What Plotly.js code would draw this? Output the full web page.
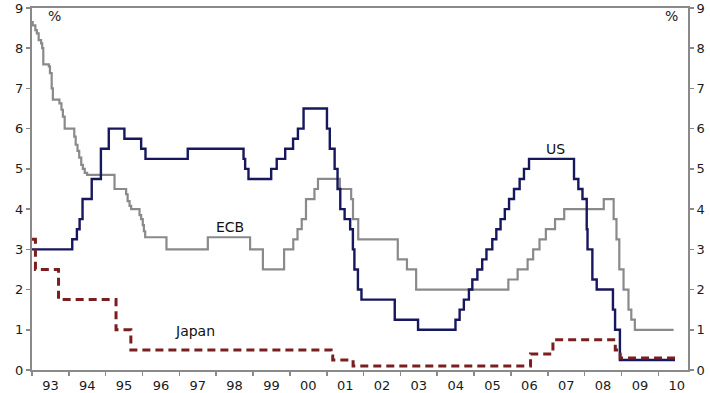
<!DOCTYPE html>
<html>
<head>
<meta charset="utf-8">
<script src="https://cdn.plot.ly/plotly-3.0.1.min.js"></script>
<style>
  html, body { margin: 0; padding: 0; background: #fff; }
  #chart { width: 710px; height: 393px; }
</style>
</head>
<body>
<div id="chart"></div>
<script>
// US Fed funds target rate (%)
const usDates = ["1993-01-01","1994-02-04","1994-03-22","1994-04-18","1994-05-17","1994-08-16","1994-11-15","1995-02-01","1995-07-06","1995-12-19","1996-01-31","1997-03-25","1998-09-29","1998-10-15","1998-11-17","1999-06-30","1999-08-24","1999-11-16","2000-02-02","2000-03-21","2000-05-16","2001-01-03","2001-01-31","2001-03-20","2001-04-18","2001-05-15","2001-06-27","2001-08-21","2001-09-17","2001-10-02","2001-11-06","2001-12-11","2002-11-06","2003-06-25","2004-06-30","2004-08-10","2004-09-21","2004-11-10","2004-12-14","2005-02-02","2005-03-22","2005-05-03","2005-06-30","2005-08-09","2005-09-20","2005-11-01","2005-12-13","2006-01-31","2006-03-28","2006-05-10","2006-06-29","2007-09-18","2007-10-31","2007-12-11","2008-01-22","2008-01-30","2008-03-18","2008-04-30","2008-10-08","2008-10-29","2008-12-16","2010-06-15"];
const usRates = [3.0,3.25,3.5,3.75,4.25,4.75,5.5,6.0,5.75,5.5,5.25,5.5,5.25,5.0,4.75,5.0,5.25,5.5,5.75,6.0,6.5,6.0,5.5,5.0,4.5,4.0,3.75,3.5,3.0,2.5,2.0,1.75,1.25,1.0,1.25,1.5,1.75,2.0,2.25,2.5,2.75,3.0,3.25,3.5,3.75,4.0,4.25,4.5,4.75,5.0,5.25,4.75,4.5,4.25,3.5,3.0,2.25,2.0,1.5,1.0,0.25,0.25];

// ECB (pre-1999 proxy) rate (%)
const ecbDates = ["1993-01-01","1993-01-08","1993-02-03","1993-02-18","1993-03-08","1993-04-01","1993-04-12","1993-04-23","1993-06-17","1993-06-28","1993-07-15","1993-07-27","1993-09-30","1993-10-20","1993-11-03","1993-11-21","1994-02-24","1994-03-10","1994-03-28","1994-04-14","1994-05-04","1994-05-20","1994-06-08","1994-07-01","1995-03-30","1995-07-23","1995-08-07","1995-08-26","1995-09-11","1995-12-03","1995-12-19","1996-01-04","1996-01-15","1996-01-28","1996-08-26","1997-10-10","1998-12-03","1999-04-09","1999-11-05","2000-02-04","2000-03-17","2000-04-28","2000-06-09","2000-09-01","2000-10-06","2001-05-11","2001-08-31","2001-09-18","2001-11-09","2002-12-06","2003-03-07","2003-06-06","2005-12-06","2006-03-08","2006-06-15","2006-08-09","2006-10-11","2006-12-13","2007-03-14","2007-06-13","2008-07-09","2008-10-15","2008-11-12","2008-12-10","2009-01-21","2009-03-11","2009-04-08","2009-05-13","2010-06-01"];
const ecbRates = [8.65,8.57,8.45,8.37,8.2,8.12,8.0,7.6,7.55,7.38,7.0,6.72,6.63,6.47,6.3,6.0,5.8,5.6,5.45,5.28,5.1,5.0,4.9,4.85,4.5,4.37,4.2,4.08,4.0,3.85,3.75,3.6,3.45,3.3,3.0,3.3,3.0,2.5,3.0,3.25,3.5,3.75,4.25,4.5,4.75,4.5,4.25,3.75,3.25,2.75,2.5,2.0,2.25,2.5,2.75,3.0,3.25,3.5,3.75,4.0,4.25,3.75,3.25,2.5,2.0,1.5,1.25,1.0,1.0];

// Japan discount rate (%)
const jpDates = ["1993-01-01","1993-02-04","1993-09-21","1995-04-14","1995-09-08","2001-02-13","2001-03-01","2001-09-19","2006-07-14","2007-02-21","2008-10-31","2008-12-19","2010-06-15"];
const jpRates = [3.25,2.5,1.75,1.0,0.5,0.35,0.25,0.1,0.4,0.75,0.5,0.3,0.3];

const yTicks = [0,1,2,3,4,5,6,7,8,9];

const axisColor = "#8a8a8a";
const fontFamily = "DejaVu Sans, Verdana, sans-serif";
const tickFont = {family: fontFamily, size: 13, color: "#1a1a1a"};

const traces = [
  {x: ecbDates, y: ecbRates, type: "scatter", mode: "lines", line: {shape: "hv", color: "#8a8a8a", width: 2.2}, hoverinfo: "skip", name: "ECB"},
  {x: usDates, y: usRates, type: "scatter", mode: "lines", line: {shape: "hv", color: "#17175e", width: 2.4}, hoverinfo: "skip", name: "US"},
  {x: jpDates, y: jpRates, type: "scatter", mode: "lines", yaxis: "y2", line: {shape: "hv", color: "#7a1f1f", width: 3, dash: "8px,5px"}, hoverinfo: "skip", name: "Japan"}
];

const yAxisBase = {
  range: [0, 9], tickvals: yTicks, ticktext: yTicks.map(String),
  ticks: "outside", ticklen: 4, tickcolor: axisColor, tickwidth: 1.5,
  showline: true, linecolor: axisColor, linewidth: 2,
  showgrid: false, zeroline: false,
  ticklabeloverflow: "allow",
  tickfont: tickFont
};

const layout = {
  width: 710, height: 393,
  margin: {l: 32, r: 22, t: 8, b: 23, pad: 0},
  paper_bgcolor: "#fff", plot_bgcolor: "#fff",
  showlegend: false,
  xaxis: {
    type: "date",
    range: ["1993-01-01", "2010-10-22"],
    tick0: "1993-01-01", dtick: "M12",
    tickformat: "%y", ticklabelmode: "period",
    ticks: "outside", ticklen: 4, tickcolor: axisColor, tickwidth: 1.5,
    showline: true, linecolor: axisColor, linewidth: 2, mirror: true,
    showgrid: false, zeroline: false,
    ticklabeloverflow: "allow",
    ticklabelstandoff: -2,
    tickfont: {family: fontFamily, size: 13, color: "#1a1a1a"}
  },
  yaxis: Object.assign({}, yAxisBase),
  yaxis2: Object.assign({overlaying: "y", side: "right"}, yAxisBase),
  annotations: [
    {text: "%", xref: "paper", yref: "paper", x: 0.035, y: 0.977, xanchor: "center", yanchor: "middle", showarrow: false, font: {family: fontFamily, size: 14, color: "#1a1a1a"}},
    {text: "%", xref: "paper", yref: "paper", x: 0.9756, y: 0.977, xanchor: "center", yanchor: "middle", showarrow: false, font: {family: fontFamily, size: 14, color: "#1a1a1a"}},
    {text: "US", xref: "x", yref: "y", x: "2007-03-15", y: 5.5, xanchor: "center", yanchor: "middle", showarrow: false, font: {family: fontFamily, size: 14, color: "#111"}},
    {text: "ECB", xref: "x", yref: "y", x: "1998-05-22", y: 3.55, xanchor: "center", yanchor: "middle", showarrow: false, font: {family: fontFamily, size: 14, color: "#111"}},
    {text: "Japan", xref: "x", yref: "y", x: "1997-06-05", y: 0.96, xanchor: "center", yanchor: "middle", showarrow: false, font: {family: fontFamily, size: 14, color: "#111"}}
  ]
};

Plotly.newPlot("chart", traces, layout, {staticPlot: true, displayModeBar: false});
</script>
</body>
</html>
